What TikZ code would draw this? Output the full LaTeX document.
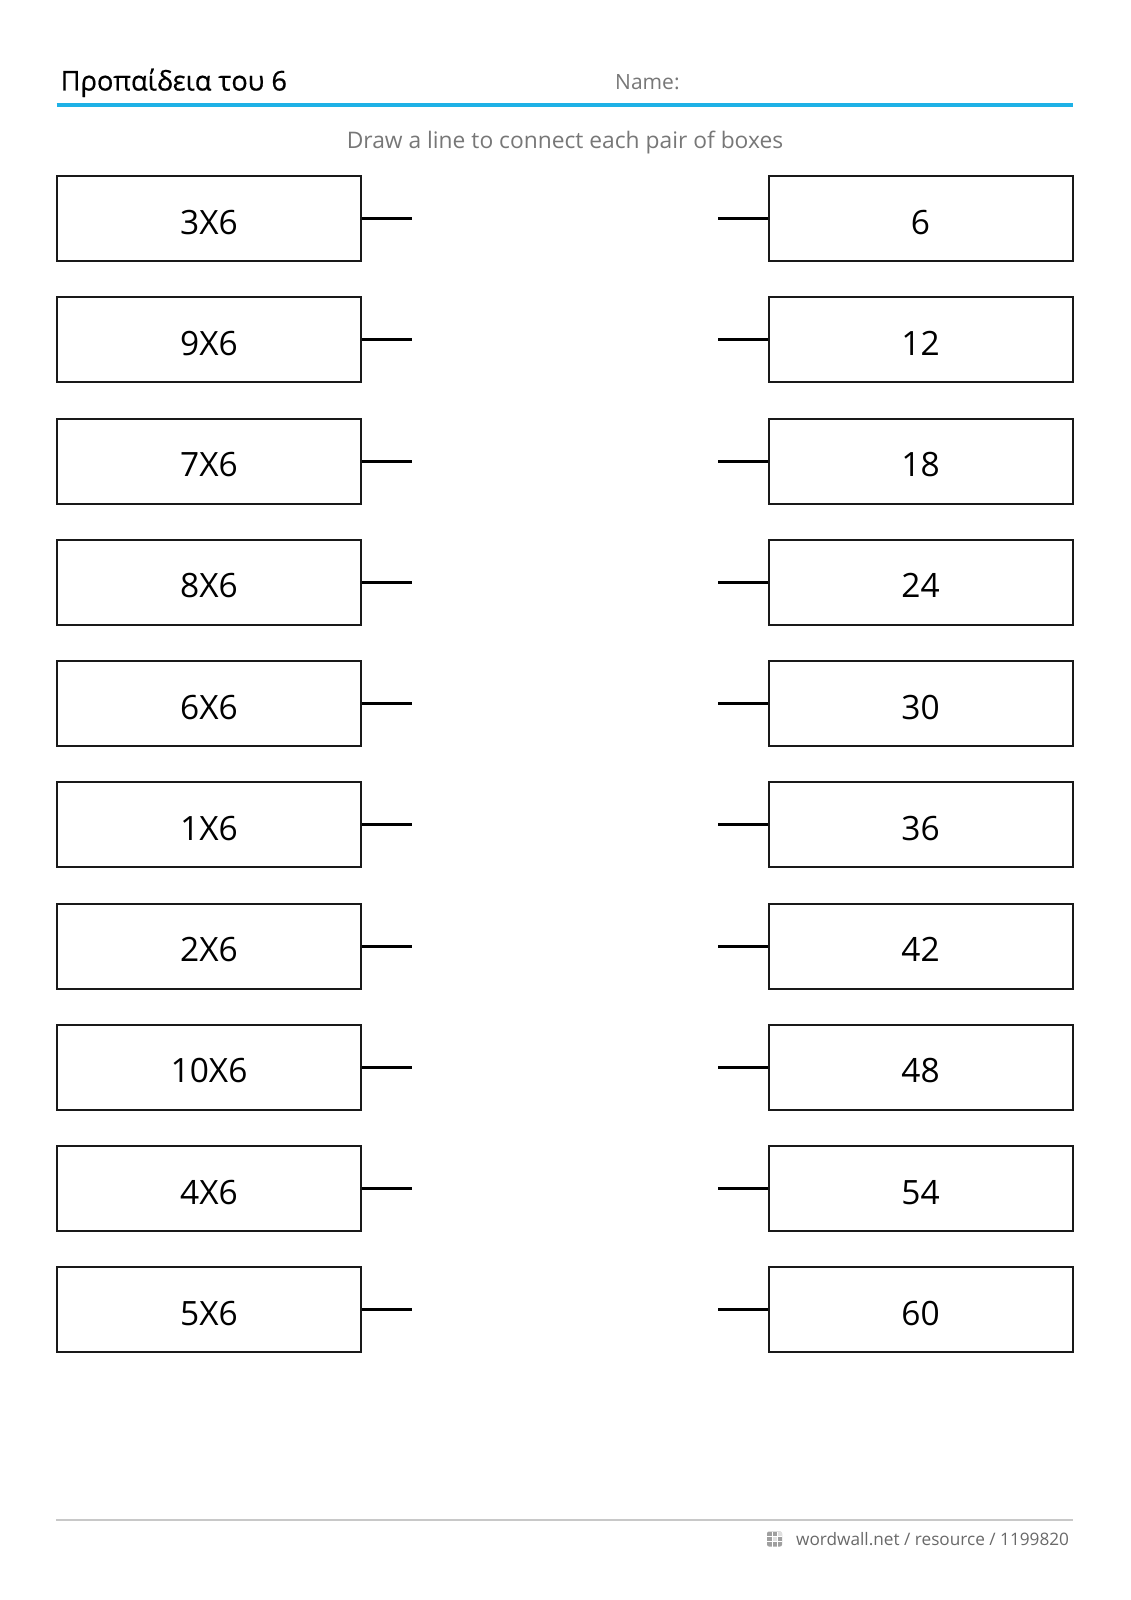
\documentclass[tikz,border=0pt]{standalone}
\usepackage{fontspec}
\setmainfont{Open Sans}
\newfontfamily\titlefont[FakeBold=0.6]{Open Sans}
\usetikzlibrary{calc}
\definecolor{wwblue}{RGB}{30,177,230}
\definecolor{wwgray}{RGB}{119,119,119}
\definecolor{footgray}{RGB}{105,105,105}
\definecolor{rulegray}{RGB}{200,200,200}
\definecolor{boxline}{RGB}{25,25,25}
\tikzset{
  pairbox/.style={draw=boxline, line width=2pt, rectangle, inner sep=0pt,
    minimum width=304pt, minimum height=85pt, text height=31pt, text depth=0pt,
    font=\fontsize{33.5}{40}\selectfont},
  stub/.style={line width=3pt, black},
  graytext/.style={text=wwgray, inner sep=0pt, font=\fontsize{21}{25}\selectfont},
}
\begin{document}
\begin{tikzpicture}[x=1pt,y=-1pt]
\useasboundingbox (0,0) rectangle (1130,1600);
% header
\node[anchor=base west, inner sep=0pt, font=\titlefont\fontsize{27.2}{32}\selectfont] (title) at (60.5,90.5) {Προπαίδεια του 6};
\node[graytext, anchor=base west] (name) at (615,90) {Name:};
\coordinate (hl) at (56.5,105);
\coordinate (hr) at (1073,105);
\draw[wwblue, line width=4pt] (hl) -- (hr);
\node[graytext, anchor=base, font=\fontsize{22.8}{27}\selectfont] (instr) at (565,149) {Draw a line to connect each pair of boxes};
% boxes
\foreach \i/\l/\r in {0/3X6/6, 1/9X6/12, 2/7X6/18, 3/8X6/24, 4/6X6/30, 5/1X6/36, 6/2X6/42, 7/10X6/48, 8/4X6/54, 9/5X6/60}{
  \pgfmathsetmacro{\yy}{218.5+121.25*\i}
  \node[pairbox] (l\i) at (209,\yy) {\l};
  \node[pairbox] (r\i) at (920.5,\yy) {\r};
  \coordinate (ls\i) at (412,\yy);
  \coordinate (rs\i) at (718,\yy);
  \draw[stub] (l\i.east) -- (ls\i);
  \draw[stub] (rs\i) -- (r\i.west);
}
% footer
\coordinate (fl) at (56,1520);
\coordinate (fr) at (1073,1520);
\draw[rulegray, line width=1.5pt] (fl) -- (fr);
\fill[rounded corners=2pt, gray!75] (767,1531.5) rectangle (782,1546.5);
\fill[gray!25] (772,1536.5) rectangle (777,1541.5);
\fill[gray!25] (777,1531.5) rectangle (782,1536.5);
\draw[white, line width=1pt] (772,1531.5) -- (772,1546.5) (777,1531.5) -- (777,1546.5) (767,1536.5) -- (782,1536.5) (767,1541.5) -- (782,1541.5);
\node[anchor=base west, inner sep=0pt, text=footgray, font=\fontsize{17.2}{21}\selectfont] (foot) at (796,1545) {wordwall.net / resource / 1199820};
\end{tikzpicture}
\end{document}
